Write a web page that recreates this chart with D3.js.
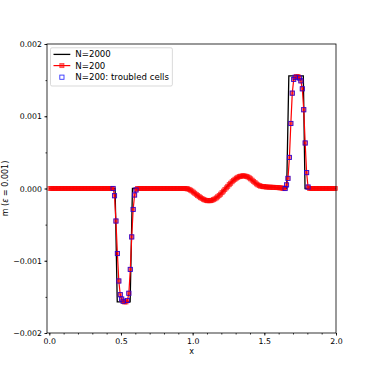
<!DOCTYPE html>
<html lang="en">
<head>
    <meta charset="UTF-8">
    <title>m (eps = 0.001)</title>
    <script src="https://d3js.org/d3.v7.min.js"></script>
    <style>
        body { margin: 0; background: #fff; }
        svg { display: block; font-family: "DejaVu Sans", sans-serif; }
        .tick text { font-size: 7.8px; fill: #000; }
    </style>
</head>
<body>
<svg id="chart" width="374" height="374"></svg>

<script>
    // N=200 cell averages, one row per 0.1 in x (cell centres 0.005, 0.015, ...)
    const m200 = [
        0, 0, 0, 0, 0, 0, 0, 0, 0, 0,
        0, 0, 0, 0, 0, 0, 0, 0, 0, 0,
        0, 0, 0, 0, 0, 0, 0, 0, 0, 0,
        0, 0, 0, 0, 0, 0, 0, 0, 0, 0,
        0, 0, 0, 0, 0, -0.0001, -0.00045, -0.0009, -0.00128, -0.00147,
        -0.00153, -0.00156, -0.00157, -0.00157, -0.00155, -0.00145, -0.00112, -0.00067, -0.00029, -0.00009,
        -0.00002, 0, 0, 0, 0, 0, 0, 0, 0, 0,
        0, 0, 0, 0, 0, 0, 0, 0, 0, 0,
        0, 0, 0, 0, 0, 0, 0, 0, 0, 0,
        0, 0, 0, 0, 0, -0.000002, -0.000005, -0.000012, -0.000022, -0.000035,
        -0.00005, -0.000066, -0.000082, -0.000098, -0.000113, -0.000127, -0.000139, -0.00015, -0.000159, -0.000165,
        -0.000169, -0.00017, -0.000168, -0.000163, -0.000155, -0.000144, -0.000131, -0.000115, -0.000097, -0.000078,
        -0.000057, -0.000036, -0.000014, 0.000008, 0.00003, 0.000052, 0.000073, 0.000093, 0.000112, 0.000128,
        0.000143, 0.000155, 0.000164, 0.00017, 0.000174, 0.000175, 0.000173, 0.000168, 0.00016, 0.000148,
        0.000133, 0.000116, 0.000098, 0.00008, 0.000064, 0.00005, 0.00004, 0.000033, 0.000028, 0.000025,
        0.000023, 0.000021, 0.00002, 0.000019, 0.000018, 0.000017, 0.000016, 0.000015, 0.000013, 0.000012,
        0.00001, 0.000008, 0.000006, 0.000003, 0, 0.00005, 0.00014, 0.00043, 0.0009, 0.00132,
        0.00151, 0.00154, 0.00155, 0.00155, 0.00153, 0.00149, 0.00138, 0.00109, 0.00063, 0.00022,
        0.00002, 0, 0, 0, 0, 0, 0, 0, 0, 0,
        0, 0, 0, 0, 0, 0, 0, 0, 0, 0
    ];
    const dx200 = 0.01;

    // indices of the N=200 cells flagged as troubled
    const troubled = [44, 45, 46, 47, 48, 49, 50, 51, 54, 55, 56, 57, 58, 59, 60,
        164, 165, 166, 167, 168, 169, 170, 171, 174, 175, 176, 177, 178, 179, 180];

    // N=2000 reference solution, breakpoints
    const n2000X = [0, 0.459, 0.474, 0.564, 0.58, 0.95, 0.98, 1.0, 1.05, 1.1, 1.12, 1.15, 1.2, 1.23, 1.25,
        1.3, 1.35, 1.37, 1.4, 1.45, 1.5, 1.55, 1.6, 1.64, 1.656, 1.671, 1.772, 1.784, 2.0];
    const n2000Y = [0, 0, -0.00157, -0.00157, 0, 0, -0.00001, -0.000045, -0.000125, -0.000167, -0.00017,
        -0.000155, -0.000057, 0.000008, 0.000052, 0.000145, 0.000174, 0.000173, 0.000135, 0.000055,
        0.000023, 0.000018, 0.00001, 0.000002, 0, 0.00156, 0.00156, 0, 0];

    const xTicks = [0, 0.5, 1.0, 1.5, 2.0];
    const yTicks = [-0.002, -0.001, 0, 0.001, 0.002];
    const legendLabels = ["N=2000", "N=200", "N=200: troubled cells"];

    const pL = 47, pR = 336, pT = 44, pB = 333;
    const svg = d3.select("#chart");

    const x = d3.scaleLinear().domain([-0.016, 2.0]).range([pL, pR]);
    const y = d3.scaleLinear().domain([-0.002, 0.002]).range([pB, pT]);

    const cells = m200.map((v, i) => ({x: (i + 0.5) * dx200, y: v}));
    const ref = n2000X.map((v, i) => ({x: v, y: n2000Y[i]}));

    // axes
    svg.append("g").attr("transform", `translate(0,${pB})`)
        .call(d3.axisBottom(x).tickValues(xTicks).tickFormat(d3.format(".1f")).tickSize(2.6).tickPadding(2.4));
    svg.append("g").attr("transform", `translate(0,${pB})`)
        .call(d3.axisBottom(x).tickValues(d3.range(0, 2.01, 0.1)).tickFormat("").tickSize(1.5));
    svg.append("g").attr("transform", `translate(${pL},0)`)
        .call(d3.axisLeft(y).tickValues(yTicks).tickFormat(d3.format(".3f")).tickSize(2.6).tickPadding(2.4));
    svg.append("g").attr("transform", `translate(${pL},0)`)
        .call(d3.axisLeft(y).tickValues(d3.range(-0.002, 0.00201, 0.0005)).tickFormat("").tickSize(1.5));
    svg.selectAll(".domain").remove();
    svg.selectAll(".tick line").attr("stroke", "#000").attr("stroke-width", 0.8);
    svg.selectAll(".tick text").attr("font-family", "DejaVu Sans");

    const line = d3.line().x(d => x(d.x)).y(d => y(d.y));

    svg.append("path").datum(ref)
        .attr("d", line).attr("fill", "none").attr("stroke", "#000").attr("stroke-width", 1.3);

    svg.append("path").datum(cells)
        .attr("d", line).attr("fill", "none").attr("stroke", "red").attr("stroke-width", 1.2);

    const ms = 4.2;
    svg.append("g").selectAll("rect").data(cells).join("rect")
        .attr("x", d => x(d.x) - ms / 2).attr("y", d => y(d.y) - ms / 2)
        .attr("width", ms).attr("height", ms)
        .attr("fill", "rgba(255,0,0,0.55)").attr("stroke", "rgba(255,0,0,0.7)").attr("stroke-width", 0.7);

    svg.append("g").selectAll("rect").data(troubled.map(i => cells[i])).join("rect")
        .attr("x", d => x(d.x) - ms / 2).attr("y", d => y(d.y) - ms / 2)
        .attr("width", ms).attr("height", ms)
        .attr("fill", "none").attr("stroke", "rgba(0,0,255,0.8)").attr("stroke-width", 0.9);

    // frame
    svg.append("rect").attr("x", pL).attr("y", pT)
        .attr("width", pR - pL).attr("height", pB - pT)
        .attr("fill", "none").attr("stroke", "#000").attr("stroke-width", 0.8);

    // axis labels
    svg.append("text").attr("x", (pL + pR) / 2).attr("y", 354)
        .attr("text-anchor", "middle").attr("font-size", 8).text("x");

    const yl = svg.append("text").attr("transform", `translate(8,${(pT + pB) / 2}) rotate(-90)`)
        .attr("text-anchor", "middle").attr("font-size", 8);
    yl.append("tspan").text("m (");
    yl.append("tspan").attr("font-style", "italic").text("ε");
    yl.append("tspan").text(" = 0.001)");

    // legend
    const lg = svg.append("g");
    const frame = lg.append("rect").attr("x", 50.5).attr("y", 47.8).attr("rx", 1.5)
        .attr("fill", "rgba(255,255,255,0.8)").attr("stroke", "#ccc").attr("stroke-width", 0.75);
    const rows = [54.4, 65.6, 77.2];
    const tx0 = 75.3;
    let maxW = 0;
    legendLabels.forEach((t, i) => {
        const tx = lg.append("text").attr("x", tx0).attr("y", rows[i]).attr("dy", "0.35em")
            .attr("font-size", 8.6).text(t);
        maxW = Math.max(maxW, tx.node().getComputedTextLength());
    });
    lg.append("line").attr("x1", 53.5).attr("x2", 70.3).attr("y1", rows[0]).attr("y2", rows[0])
        .attr("stroke", "#000").attr("stroke-width", 1.3);
    lg.append("line").attr("x1", 53.5).attr("x2", 70.3).attr("y1", rows[1]).attr("y2", rows[1])
        .attr("stroke", "red").attr("stroke-width", 1.2);
    lg.append("rect").attr("x", 61.9 - ms / 2).attr("y", rows[1] - ms / 2).attr("width", ms).attr("height", ms)
        .attr("fill", "rgba(255,0,0,0.55)").attr("stroke", "rgba(255,0,0,0.7)").attr("stroke-width", 0.7);
    lg.append("rect").attr("x", 61.9 - ms / 2).attr("y", rows[2] - ms / 2).attr("width", ms).attr("height", ms)
        .attr("fill", "none").attr("stroke", "rgba(0,0,255,0.8)").attr("stroke-width", 0.9);
    frame.attr("width", tx0 + maxW + 3.4 - 50.5).attr("height", 86 - 47.8);
</script>
</body>
</html>
